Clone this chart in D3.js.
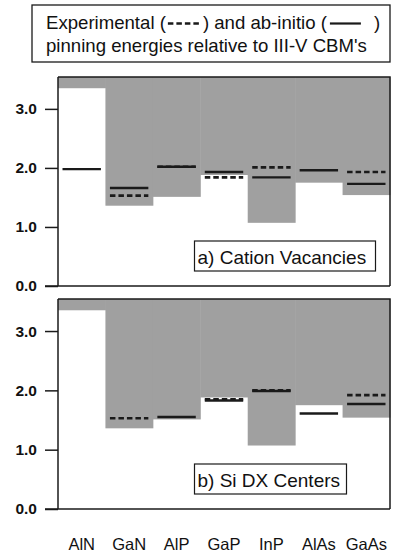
<!DOCTYPE html>
<html>
<head>
<meta charset="utf-8">
<script src="https://cdn.jsdelivr.net/npm/d3@7/dist/d3.min.js"></script>
<style>
  html, body { margin: 0; padding: 0; background: #fff; }
  svg { display: block; font-family: "Liberation Sans", Arial, sans-serif; }
</style>
</head>
<body>
<svg id="chart" width="398" height="553"></svg>
<script>
// Materials along the x axis
const materials = ["AlN", "GaN", "AlP", "GaP", "InP", "AlAs", "GaAs"];
// Band gap of each material (bottom edge of the shaded band), eV
const bandGap = [3.35, 1.36, 1.51, 1.88, 1.07, 1.75, 1.54];
// Cation vacancies: ab-initio (solid) and experimental (dashed), eV
const vacTheory = [1.98, 1.66, 2.02, 1.93, 1.84, 1.96, 1.73];
const vacExpt   = [null, 1.53, 2.02, 1.84, 2.01, null, 1.93];
// Si DX centers: ab-initio (solid) and experimental (dashed), eV
const dxTheory = [null, null, 1.55, 1.83, 1.99, 1.61, 1.77];
const dxExpt   = [null, 1.53, null, 1.85, 2.00, null, 1.92];
// Axis ticks
const yTicks = [0, 1, 2, 3];
const yMax = 3.54;

const svg = d3.select("#chart");
const left = 58, right = 390;
const dark = "#1a1a1a", gray = "#a0a0a0";

const x = d3.scaleBand().domain(materials).range([left, right]).padding(0);
const inset = x.bandwidth() * 0.095;

// Legend box
svg.append("rect").attr("x", 32).attr("y", 5).attr("width", 358).attr("height", 57)
  .attr("fill", "#fff").attr("stroke", dark).attr("stroke-width", 1.3);

const legendFont = 18.6;
function legendText(str, xPos, yPos) {
  const t = svg.append("text").attr("x", xPos).attr("y", yPos)
    .attr("font-size", legendFont).attr("fill", "#111").text(str);
  return xPos + t.node().getComputedTextLength();
}
let lx = legendText("Experimental (", 46, 29);
svg.append("line").attr("x1", lx + 2).attr("x2", lx + 35).attr("y1", 23.5).attr("y2", 23.5)
  .attr("stroke", dark).attr("stroke-width", 2.6).attr("stroke-dasharray", "5.5,3");
lx = legendText(") and ab-initio (", lx + 37, 29);
svg.append("line").attr("x1", lx + 3).attr("x2", lx + 34).attr("y1", 23.5).attr("y2", 23.5)
  .attr("stroke", dark).attr("stroke-width", 2.2);
legendText(")", lx + 47, 29);
legendText("pinning energies relative to III-V CBM's", 46, 52);

function panel(top, bottom, theory, expt, label, boxWidth) {
  const y = d3.scaleLinear().domain([0, yMax]).range([bottom, top]);
  const g = svg.append("g");

  // Shaded band from the top of the panel down to each band gap
  g.selectAll("rect.band").data(materials).join("rect")
    .attr("class", "band")
    .attr("x", d => x(d))
    .attr("width", x.bandwidth() + 0.5)
    .attr("y", y(yMax))
    .attr("height", (d, i) => y(bandGap[i]) - y(yMax))
    .attr("fill", gray);

  // Ab-initio levels
  g.selectAll("line.theory").data(materials.filter((d, i) => theory[i] != null)).join("line")
    .attr("class", "theory")
    .attr("x1", d => x(d) + inset).attr("x2", d => x(d) + x.bandwidth() - inset)
    .attr("y1", d => y(theory[materials.indexOf(d)]))
    .attr("y2", d => y(theory[materials.indexOf(d)]))
    .attr("stroke", dark).attr("stroke-width", 2.4);

  // Experimental levels
  g.selectAll("line.expt").data(materials.filter((d, i) => expt[i] != null)).join("line")
    .attr("class", "expt")
    .attr("x1", d => x(d) + inset).attr("x2", d => x(d) + x.bandwidth() - inset)
    .attr("y1", d => y(expt[materials.indexOf(d)]))
    .attr("y2", d => y(expt[materials.indexOf(d)]))
    .attr("stroke", dark).attr("stroke-width", 2.6).attr("stroke-dasharray", "5.5,3");

  // Frame: top and right edges
  g.append("path")
    .attr("d", `M${left},${y(yMax)}H${right}V${y(0)}`)
    .attr("fill", "none").attr("stroke", dark).attr("stroke-width", 1.5);

  // Left axis
  const axis = g.append("g").attr("transform", `translate(${left},0)`)
    .call(d3.axisLeft(y).tickValues(yTicks).tickFormat(d3.format(".1f"))
      .tickSize(13).tickPadding(8));
  axis.select(".domain").attr("d", `M0,${y(yMax)}V${y(0)}`)
    .attr("stroke", dark).attr("stroke-width", 1.5);
  axis.selectAll(".tick line").attr("stroke", dark).attr("stroke-width", 1.5);
  axis.selectAll(".tick text").attr("font-size", 15.5).attr("font-weight", "bold")
    .attr("fill", "#111").attr("font-family", "Liberation Sans, Arial, sans-serif");

  // Zero line
  g.append("line").attr("x1", left - 13).attr("x2", right)
    .attr("y1", y(0)).attr("y2", y(0))
    .attr("stroke", dark).attr("stroke-width", 1.5);

  // Panel label
  const ly = y(0) - 45;
  g.append("rect").attr("x", 194.5).attr("y", ly).attr("width", boxWidth).attr("height", 30)
    .attr("fill", "#fff").attr("stroke", dark).attr("stroke-width", 1.2);
  g.append("text").attr("x", 197.5).attr("y", ly + 23).attr("font-size", 19)
    .attr("fill", "#111").text(label);
}

panel(77, 286, vacTheory, vacExpt, "a) Cation Vacancies", 181);
panel(299, 509, dxTheory, dxExpt, "b) Si DX Centers", 152);

// Material labels
svg.append("g").selectAll("text").data(materials).join("text")
  .attr("x", d => x(d) + x.bandwidth() / 2)
  .attr("y", 550)
  .attr("text-anchor", "middle")
  .attr("font-size", 16.5)
  .attr("fill", "#111")
  .text(d => d);
</script>
</body>
</html>
